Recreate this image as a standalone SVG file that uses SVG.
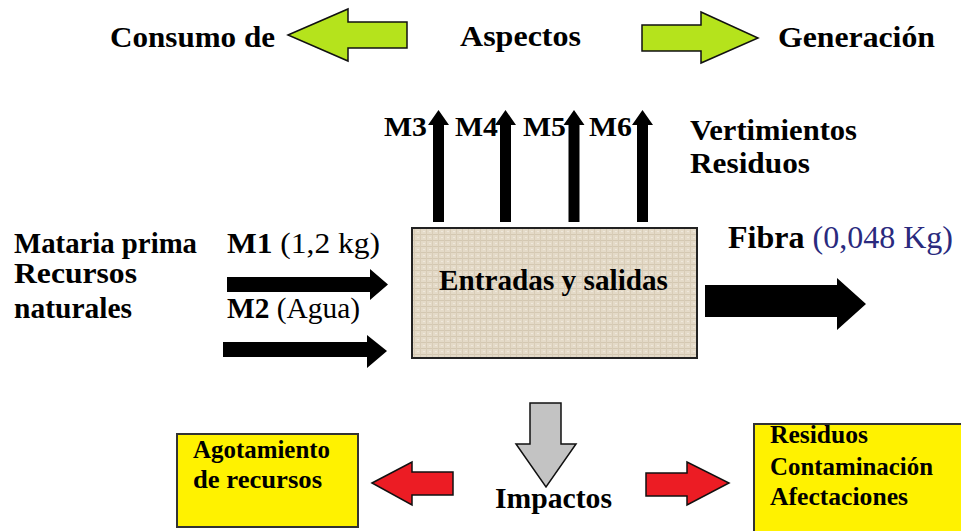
<svg xmlns="http://www.w3.org/2000/svg" width="961" height="531" viewBox="0 0 961 531" font-family="'Liberation Serif', 'Times New Roman', serif">
<style>
  text { font-family: 'Liberation Serif', 'Times New Roman', serif; fill: #000; }
  .b { font-weight: bold; }
  .n { font-weight: normal; }
  .green { fill: #b5e31c; stroke: #111; stroke-width: 1.5; stroke-linejoin: miter; }
  .red { fill: #ec1c24; stroke: #111; stroke-width: 1.5; }
  .gray { fill: #c3c3c3; stroke: #111; stroke-width: 1.5; }
  .blk { fill: #000; }
  .ybox { fill: #fff200; stroke: #333; stroke-width: 2; }
</style>
<defs>
  <pattern id="burlap" width="6" height="6" patternUnits="userSpaceOnUse">
    <rect width="6" height="6" fill="#e4dac8"/>
    <rect x="0" y="0" width="6" height="1" fill="#d4c8b2"/>
    <rect x="0" y="0" width="1" height="6" fill="#d8ccb7"/>
    <rect x="3" y="3" width="2" height="1" fill="#efe8dc"/>
  </pattern>
</defs>
<rect width="961" height="531" fill="#fff"/>

<g id="aspectos-row">
  <text class="b" x="110" y="47" font-size="30" textLength="165" lengthAdjust="spacingAndGlyphs">Consumo de</text>
  <text class="b" x="460" y="46" font-size="30" textLength="121" lengthAdjust="spacingAndGlyphs">Aspectos</text>
  <text class="b" x="778" y="47" font-size="30" textLength="157" lengthAdjust="spacingAndGlyphs">Generación</text>
</g>

<g id="inputs-label">
  <text class="b" x="14" y="253" font-size="29" textLength="183" lengthAdjust="spacingAndGlyphs">Mataria prima</text>
  <text class="b" x="14" y="283" font-size="29" textLength="123" lengthAdjust="spacingAndGlyphs">Recursos</text>
  <text class="b" x="14" y="318" font-size="29" textLength="118" lengthAdjust="spacingAndGlyphs">naturales</text>
</g>

<g id="m1-label">
  <text x="227" y="253" font-size="29" textLength="153" lengthAdjust="spacingAndGlyphs"><tspan class="b">M1</tspan><tspan class="n"> (1,2 kg)</tspan></text>
</g>
<g id="m2-label">
  <text x="227" y="318" font-size="29" textLength="133" lengthAdjust="spacingAndGlyphs"><tspan class="b">M2</tspan><tspan class="n"> (Agua)</tspan></text>
</g>

<g id="outputs-label">
  <text class="b" x="384" y="136" font-size="28" textLength="43" lengthAdjust="spacingAndGlyphs">M3</text>
  <text class="b" x="455" y="136" font-size="28" textLength="43" lengthAdjust="spacingAndGlyphs">M4</text>
  <text class="b" x="523" y="136" font-size="28" textLength="43" lengthAdjust="spacingAndGlyphs">M5</text>
  <text class="b" x="589" y="136" font-size="28" textLength="43" lengthAdjust="spacingAndGlyphs">M6</text>
  <text class="b" x="690" y="140" font-size="30" textLength="167" lengthAdjust="spacingAndGlyphs">Vertimientos</text>
  <text class="b" x="690" y="173" font-size="30" textLength="120" lengthAdjust="spacingAndGlyphs">Residuos</text>
</g>

<g id="proceso">
  <rect x="412" y="228" width="285" height="130" fill="url(#burlap)" stroke="#222" stroke-width="2"/>
  <text class="b" x="439" y="290" font-size="29" textLength="229" lengthAdjust="spacingAndGlyphs">Entradas y salidas</text>
</g>

<g id="fibra-label">
  <text x="728" y="248" font-size="31" textLength="225" lengthAdjust="spacingAndGlyphs"><tspan class="b">Fibra</tspan><tspan class="n" fill="#2a2a7e"> (0,048 Kg)</tspan></text>
</g>

<g id="impactos">
  <text class="b" x="495" y="508" font-size="29" textLength="117" lengthAdjust="spacingAndGlyphs">Impactos</text>
</g>

<g id="agotamiento">
  <rect class="ybox" x="177" y="434" width="181" height="93"/>
  <text class="b" x="193" y="458" font-size="25" textLength="137" lengthAdjust="spacingAndGlyphs">Agotamiento</text>
  <text class="b" x="193" y="488" font-size="25" textLength="129" lengthAdjust="spacingAndGlyphs">de recursos</text>
</g>

<g id="efectos">
  <rect class="ybox" x="754" y="424" width="220" height="120"/>
  <text class="b" x="770" y="443" font-size="25" textLength="98" lengthAdjust="spacingAndGlyphs">Residuos</text>
  <text class="b" x="770" y="475" font-size="25" textLength="163" lengthAdjust="spacingAndGlyphs">Contaminación</text>
  <text class="b" x="770" y="505" font-size="25" textLength="138" lengthAdjust="spacingAndGlyphs">Afectaciones</text>
</g>

<g id="connectors">
  <polygon class="green" points="288,35 348,9 348,22 407,22 407,48 348,48 348,61"/>
  <polygon class="green" points="642,25 701,25 701,12 758,38 701,63 701,51 642,51"/>
  <polygon class="blk" points="433,222 433,125 428,125 438.5,110 449,125 444,125 444,222"/>
  <polygon class="blk" points="500,222 500,125 495,125 505.5,110 516,125 511,125 511,222"/>
  <polygon class="blk" points="568.5,222 568.5,125 563.5,125 574,110 584.5,125 579.5,125 579.5,222"/>
  <polygon class="blk" points="637,222 637,125 632,125 642.5,110 653,125 648,125 648,222"/>
  <polygon class="blk" points="227,277 370,277 370,269 388,284.5 370,300 370,292 227,292"/>
  <polygon class="blk" points="223,342 367,342 367,335 387,351 367,368 367,357 223,357"/>
  <polygon class="blk" points="705,285 837,285 837,278 866,304 837,330 837,317 705,317"/>
  <polygon class="gray" points="530,403 561,403 561,444 576,444 546,487 516,444 530,444"/>
  <polygon class="red" points="372,483 412,462 412,472 453,472 453,495 412,495 412,505"/>
  <polygon class="red" points="646,473 687,473 687,462 729,483 687,505 687,496 646,496"/>
</g>
</svg>
